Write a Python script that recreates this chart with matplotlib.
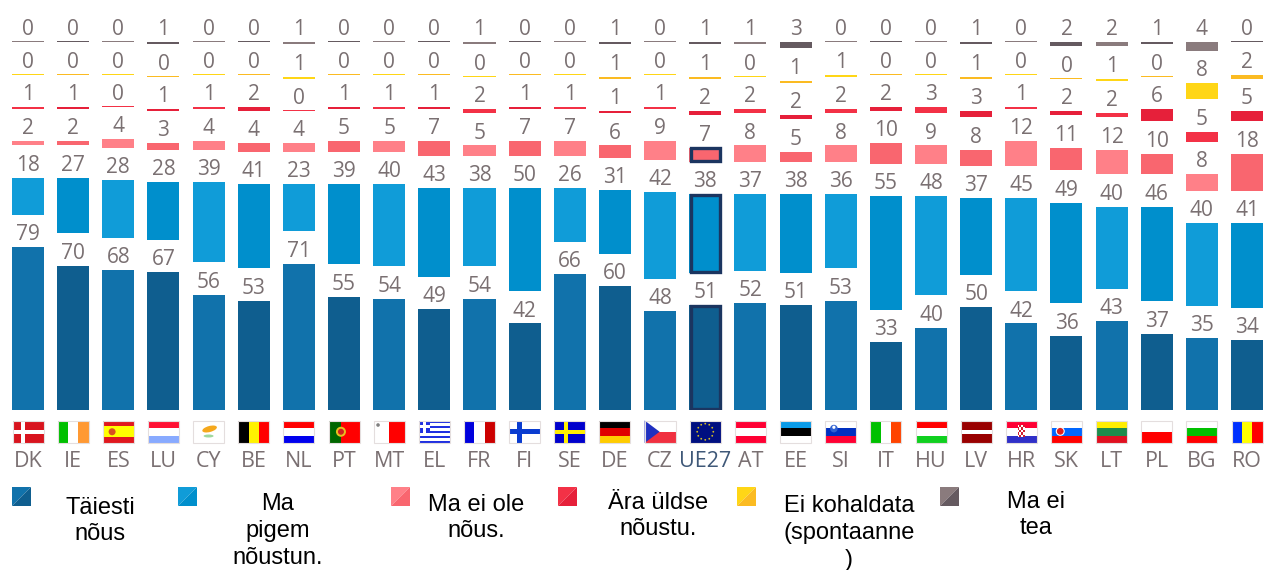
import matplotlib
matplotlib.use("Agg")
import matplotlib.pyplot as plt
from matplotlib.patches import Rectangle, Polygon, Circle, Ellipse
import numpy as np

# Chart data
countries = ["DK", "IE", "ES", "LU", "CY", "BE", "NL", "PT", "MT", "EL", "FR", "FI", "SE", "DE",
             "CZ", "UE27", "AT", "EE", "SI", "IT", "HU", "LV", "HR", "SK", "LT", "PL", "BG", "RO"]
taiesti = [79, 70, 68, 67, 56, 53, 71, 55, 54, 49, 54, 42, 66, 60, 48, 51, 52, 51, 53, 33, 40, 50, 42, 36, 43, 37, 35, 34]
pigem = [18, 27, 28, 28, 39, 41, 23, 39, 40, 43, 38, 50, 26, 31, 42, 38, 37, 38, 36, 55, 48, 37, 45, 49, 40, 46, 40, 41]
ei_ole = [2, 2, 4, 3, 4, 4, 4, 5, 5, 7, 5, 7, 7, 6, 9, 7, 8, 5, 8, 10, 9, 8, 12, 11, 12, 10, 8, 18]
ara = [1, 1, 0, 1, 1, 2, 0, 1, 1, 1, 2, 1, 1, 1, 1, 2, 2, 2, 2, 2, 3, 3, 1, 2, 2, 6, 5, 5]
ei_kohaldata = [0, 0, 0, 0, 0, 0, 1, 0, 0, 0, 0, 0, 0, 1, 0, 1, 0, 1, 1, 0, 0, 1, 0, 0, 1, 0, 8, 2]
ei_tea = [0, 0, 0, 1, 0, 0, 1, 0, 0, 0, 1, 0, 0, 1, 0, 1, 1, 3, 0, 0, 0, 1, 0, 2, 2, 1, 4, 0]
series = [taiesti, pigem, ei_ole, ara, ei_kohaldata, ei_tea]

light_colors = ["#1172AB", "#109CD8", "#FF8088", "#F33146", "#FFD616", "#8A7B7D"]
dark_colors = ["#0F5E8F", "#008FCC", "#F9666F", "#E6203A", "#FBBB22", "#655A60"]
legend_labels = ["Täiesti\nnõus", "Ma\npigem\nnõustun.", "Ma ei ole\nnõus.",
                 "Ära üldse\nnõustu.", "Ei kohaldata\n(spontaanne\n)", "Ma ei\ntea"]
legend_box_x = [12, 178, 391, 558, 737, 940]
legend_text_x = [100, 278, 476, 658, 849, 1036]
legend_text_y = [521, 531, 518, 516, 533, 515]

W, H = 1264, 570
FIRST_X = 28
STEP = 45.15
BASE_Y = 410
PX_PER_UNIT = 2.06
GAP = 15.7
MIN_HEIGHT = 0.45  # a zero still shows as a hairline
TEXT_GREY = "#7A7072"
NAVY = "#1B3560"

fig = plt.figure(figsize=(W / 100, H / 100), dpi=100)

# Bars
ax = fig.add_axes([0, 1 - BASE_Y / H, 1, BASE_Y / H])
ax.set_xlim(-FIRST_X / STEP, (W - FIRST_X) / STEP)
ax.set_ylim(0, BASE_Y / PX_PER_UNIT)
x = np.arange(len(countries))
eu = countries.index("UE27")
bottom = np.zeros(len(countries))

for s, values in enumerate(series):
    values = np.array(values)
    colors = [dark_colors[s] if i % 2 else light_colors[s] for i in x]
    ax.bar(x, np.maximum(values, MIN_HEIGHT), 0.71, bottom=bottom, color=colors, linewidth=0)
    # the EU average gets a navy frame in the three big rows
    if s < 3:
        ax.bar(eu, values[eu] - 0.8, 0.65, bottom=bottom[eu] + 0.4, color="none", edgecolor=NAVY, linewidth=2.4)
    for i in x:
        ax.annotate(str(values[i]), (i, bottom[i] + values[i]), xytext=(0, 5), textcoords="offset points",
                    ha="center", va="baseline", fontsize=15, color=TEXT_GREY, family="Open Sans")
    bottom = bottom + values + GAP

ax.set_xticks(x)
ax.set_xticklabels(countries, fontsize=15.5, family="Open Sans", color=TEXT_GREY)
ax.get_xticklabels()[eu].set_color("#3F5878")
ax.tick_params(axis="x", length=0, pad=29.5)
ax.set_yticks([])
for spine in ax.spines.values():
    spine.set_visible(False)

# Pixel layer for the flags and the legend
lay = fig.add_axes([0, 0, 1, 1], zorder=3)
lay.set_xlim(0, W)
lay.set_ylim(H, 0)
lay.axis("off")
lay.patch.set_alpha(0)

FLAG_W = 31
FLAG_H = 22.5
FLAG_TOP = 420.5


# Rectangle in flag units (0-1) on flag number i
def frect(i, u0, v0, u1, v1, color):
    left = FIRST_X + STEP * i - FLAG_W / 2
    lay.add_patch(Rectangle((left + u0 * FLAG_W, FLAG_TOP + v0 * FLAG_H), (u1 - u0) * FLAG_W, (v1 - v0) * FLAG_H,
                            facecolor=color, edgecolor="none"))


# Round spot in flag units
def fspot(i, u, v, r, color):
    left = FIRST_X + STEP * i - FLAG_W / 2
    lay.add_patch(Circle((left + u * FLAG_W, FLAG_TOP + v * FLAG_H), r, facecolor=color, edgecolor="none"))


def hflag(code, cols):
    i = countries.index(code)
    n = len(cols)
    for k, c in enumerate(cols):
        frect(i, 0, k / n, 1, (k + 1) / n, c)
    return i


def vflag(code, cols):
    i = countries.index(code)
    n = len(cols)
    for k, c in enumerate(cols):
        frect(i, k / n, 0, (k + 1) / n, 1, c)
    return i


i = hflag("DK", ["#D8141E"])
frect(i, 0.28, 0, 0.41, 1, "white")
frect(i, 0, 0.42, 1, 0.58, "white")

vflag("IE", ["#00C000", "white", "#FF9933"])

i = hflag("ES", ["#E0181E", "#FFFF00", "#FFFF00", "#E0181E"])
fspot(i, 0.3, 0.5, 3.5, "#D85020")

hflag("LU", ["#FF1133", "white", "#88AAFF"])

i = hflag("CY", ["white"])
lay.add_patch(Ellipse((FIRST_X + STEP * i + 1, 429), 15, 6, angle=-15, facecolor="#F5A81C", edgecolor="none"))
lay.add_patch(Ellipse((FIRST_X + STEP * i, 436), 10, 3, facecolor="#9ED89E", edgecolor="none"))

vflag("BE", ["black", "#FFF200", "#FF0000"])
hflag("NL", ["#FF0000", "white", "#0000EE"])

i = hflag("PT", ["#FF0000"])
frect(i, 0, 0, 0.4, 1, "#006600")
fspot(i, 0.4, 0.5, 5, "#E8C020")
fspot(i, 0.4, 0.5, 3, "#D02020")

i = hflag("MT", ["white"])
frect(i, 0.5, 0, 1, 1, "#FF0000")
fspot(i, 0.14, 0.2, 1.8, "#808080")

i = hflag("EL", ["#2030E0", "white", "#2030E0", "white", "#2030E0", "white", "#2030E0", "white", "#2030E0"])
frect(i, 0, 0, 0.37, 0.56, "#2030E0")
frect(i, 0.14, 0, 0.23, 0.56, "white")
frect(i, 0, 0.22, 0.37, 0.34, "white")

vflag("FR", ["#0000DD", "white", "#CC0000"])

i = hflag("FI", ["white"])
frect(i, 0.26, 0, 0.42, 1, "#0A3CD0")
frect(i, 0, 0.38, 1, 0.62, "#0A3CD0")

i = hflag("SE", ["#0000CC"])
frect(i, 0.3, 0, 0.44, 1, "#FFEE00")
frect(i, 0, 0.4, 1, 0.6, "#FFEE00")

hflag("DE", ["black", "#E00000", "#FFCC00"])

i = hflag("CZ", ["white", "#F03040"])
left = FIRST_X + STEP * i - FLAG_W / 2
lay.add_patch(Polygon([(left, FLAG_TOP), (left + 15, FLAG_TOP + FLAG_H / 2), (left, FLAG_TOP + FLAG_H)],
                      facecolor="#2030C0", edgecolor="none"))

i = hflag("UE27", ["#000F80"])
for a in np.arange(0, 360, 30):
    fspot(i, 0.5 + 0.26 * np.cos(np.radians(a)), 0.5 + 0.36 * np.sin(np.radians(a)), 0.9, "#D8C020")

hflag("AT", ["#FF0033", "white", "#FF0033"])
hflag("EE", ["#0A9BE8", "black", "white"])

i = hflag("SI", ["white", "#0030C0", "#FF0033"])
fspot(i, 0.28, 0.36, 3.8, "#3060D0")
fspot(i, 0.28, 0.3, 1.6, "white")

vflag("IT", ["#00C000", "white", "#FF4400"])
hflag("HU", ["#FF0000", "white", "#10D020"])

i = hflag("LV", ["#990000"])
frect(i, 0, 0.41, 1, 0.59, "white")

i = hflag("HR", ["#FF0033", "white", "#3030C8"])
for a in range(4):
    for b in range(5):
        frect(i, 0.38 + a * 0.06, 0.2 + b * 0.11, 0.44 + a * 0.06, 0.31 + b * 0.11,
              "#D02030" if (a + b) % 2 else "white")

i = hflag("SK", ["white", "#0066FF", "#FF0000"])
fspot(i, 0.3, 0.48, 4.5, "white")
fspot(i, 0.3, 0.48, 3.4, "#E02020")

hflag("LT", ["#FFEE00", "#1E8C4C", "#E01020"])
hflag("PL", ["white", "#FF0000"])
hflag("BG", ["white", "#00C000", "#FF0000"])
vflag("RO", ["#0030FF", "#FFFF00", "#FF0000"])

# thin border round every flag
for i in x:
    lay.add_patch(Rectangle((FIRST_X + STEP * i - FLAG_W / 2, FLAG_TOP), FLAG_W, FLAG_H, facecolor="none",
                            edgecolor="#E4DEDE", linewidth=0.8))

# Legend
for k in range(6):
    bx = legend_box_x[k]
    by = 487
    lay.add_patch(Polygon([(bx, by), (bx + 19, by), (bx, by + 19)], facecolor=light_colors[k], edgecolor="none"))
    lay.add_patch(Polygon([(bx + 19, by), (bx + 19, by + 19), (bx, by + 19)], facecolor=dark_colors[k], edgecolor="none"))
    lay.text(legend_text_x[k], legend_text_y[k], legend_labels[k], ha="center", va="center", fontsize=17,
             family="Liberation Sans", color="black", linespacing=1.27, clip_on=False)

fig.savefig("out.png", dpi=100)
